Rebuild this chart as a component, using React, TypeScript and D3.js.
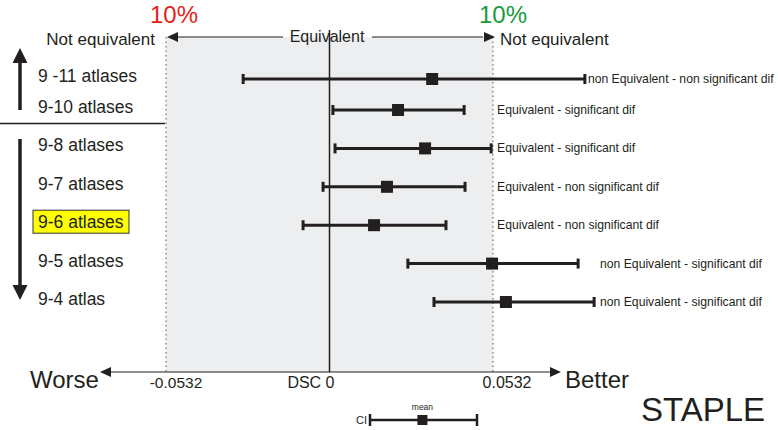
import React from "react";
import * as d3 from "d3";

// atlas combinations, top to bottom
const labels = ["9 -11 atlases", "9-10 atlases", "9-8 atlases", "9-7 atlases", "9-6 atlases", "9-5 atlases", "9-4 atlas"];
// DSC difference: mean and confidence interval
const means = [0.0334, 0.0223, 0.0311, 0.0187, 0.0145, 0.0529, 0.0574];
const lows = [-0.0281, 0.0011, 0.0018, -0.0021, -0.0086, 0.0255, 0.034];
const highs = [0.0831, 0.0438, 0.0526, 0.0441, 0.0379, 0.0809, 0.0861];
const notes = [
  "non Equivalent - non significant dif",
  "Equivalent - significant dif",
  "Equivalent - significant dif",
  "Equivalent - non significant dif",
  "Equivalent - non significant dif",
  "non Equivalent - significant dif",
  "non Equivalent - significant dif",
];
const margin = 0.0532;
const highlighted = "9-6 atlases";

const W = 778;
const H = 430;
const ink = "#231f20";
const font = "'Liberation Sans', Arial, sans-serif";

export default function App() {
  const x = d3.scaleLinear().domain([-margin, margin]).range([166, 493]);
  // rows: the first two (more atlases) sit above the divider, tighter spacing
  const y = d3.scaleLinear().domain([0, 1, labels.length - 1]).range([79, 110, 302]);
  const axisY = 372;
  const topY = 37;
  const x0 = x(0);
  const xl = x(-margin);
  const xr = x(margin);

  // legend whisker
  const lx = d3.scaleLinear().domain([0, 1]).range([370, 477]);
  const legendY = 420;

  const divY = y(1.35);

  const tri = (tx: number, ty: number, dir: "l" | "r" | "u" | "d", len = 13, half = 5) => {
    if (dir === "l") return `M${tx},${ty}L${tx + len},${ty - half}L${tx + len},${ty + half}Z`;
    if (dir === "r") return `M${tx},${ty}L${tx - len},${ty - half}L${tx - len},${ty + half}Z`;
    if (dir === "u") return `M${tx},${ty}L${tx - half},${ty + len}L${tx + half},${ty + len}Z`;
    return `M${tx},${ty}L${tx - half},${ty - len}L${tx + half},${ty - len}Z`;
  };

  return (
    <svg width={W} height={H} style={{ position: "absolute", left: 0, top: 0, background: "#fff", fontFamily: font }}>
      {/* equivalence zone */}
      <rect x={xl} y={topY} width={xr - xl} height={axisY - topY} fill="#eceef0" />
      <line x1={xl} x2={xl} y1={topY} y2={axisY} stroke="#555" strokeDasharray="1.5,3" />
      <line x1={xr} x2={xr} y1={topY} y2={axisY} stroke="#555" strokeDasharray="1.5,3" />
      <line x1={x0} x2={x0} y1={30} y2={axisY} stroke={ink} strokeWidth={1.5} />

      {/* top bracket */}
      <line x1={xl + 10} x2={283} y1={topY} y2={topY} stroke={ink} strokeWidth={1.2} />
      <line x1={372} x2={xr - 10} y1={topY} y2={topY} stroke={ink} strokeWidth={1.2} />
      <path d={tri(xl + 1, topY, "l", 11, 5)} fill={ink} />
      <path d={tri(xr + 2, topY, "r", 11, 5)} fill={ink} />
      <text x={327} y={42} textAnchor="middle" fontSize={16} fill={ink}>Equivalent</text>
      <text x={155} y={45} textAnchor="end" fontSize={17} fill={ink}>Not equivalent</text>
      <text x={500} y={45} fontSize={17} fill={ink}>Not equivalent</text>
      <text x={174} y={23} textAnchor="middle" fontSize={24} fill="#e2231a">10%</text>
      <text x={503} y={23} textAnchor="middle" fontSize={24} fill="#1a9a3c">10%</text>

      {/* left side labels and arrows */}
      <line x1={0} x2={165} y1={divY} y2={divY} stroke={ink} strokeWidth={1.5} />
      <line x1={20} x2={20} y1={110} y2={60} stroke={ink} strokeWidth={3.5} />
      <path d={tri(20, 48, "u", 15, 7.5)} fill={ink} />
      <line x1={20} x2={20} y1={139} y2={288} stroke={ink} strokeWidth={3.5} />
      <path d={tri(20, 300, "d", 15, 7.5)} fill={ink} />
      {labels.map((l, i) => {
        const yy = y(i);
        const hl = l === highlighted;
        return (
          <g key={l}>
            {hl && <rect x={33} y={yy - 15} width={96} height={23} fill="#ffff00" stroke="#333" strokeWidth={1} />}
            <text x={38} y={yy + 3} fontSize={17.5} fill={ink}>{l}</text>
          </g>
        );
      })}

      {/* intervals */}
      {labels.map((l, i) => {
        const yy = y(i);
        const a = x(lows[i]);
        const b = x(highs[i]);
        const m = x(means[i]);
        const noteX = i === 0 ? b + 3 : b > xr + 20 ? 600 : xr + 4;
        return (
          <g key={"ci" + l}>
            <line x1={a} x2={b} y1={yy} y2={yy} stroke={ink} strokeWidth={3} />
            <line x1={a} x2={a} y1={yy - 5} y2={yy + 5} stroke={ink} strokeWidth={3} />
            <line x1={b} x2={b} y1={yy - 5} y2={yy + 5} stroke={ink} strokeWidth={3} />
            <rect x={m - 6} y={yy - 6} width={12} height={12} fill={ink} />
            <text x={noteX} y={yy + 4} fontSize={12.2} fill={ink}>{notes[i]}</text>
          </g>
        );
      })}

      {/* bottom axis */}
      <line x1={108} x2={552} y1={axisY} y2={axisY} stroke={ink} strokeWidth={1.2} />
      <path d={tri(100, axisY, "l", 11, 5)} fill={ink} />
      <path d={tri(561, axisY, "r", 11, 5)} fill={ink} />
      <text x={30} y={388} fontSize={24} fill={ink}>Worse</text>
      <text x={565} y={388} fontSize={24} fill={ink}>Better</text>
      <text x={176} y={388} textAnchor="middle" fontSize={15.5} fill={ink}>{"-" + margin}</text>
      <text x={x0 + 5} y={388} textAnchor="end" fontSize={16} fill={ink}>DSC 0</text>
      <text x={507} y={388} textAnchor="middle" fontSize={16} fill={ink}>{String(margin)}</text>

      {/* legend */}
      <line x1={lx(0)} x2={lx(1)} y1={legendY} y2={legendY} stroke={ink} strokeWidth={2.5} />
      <line x1={lx(0)} x2={lx(0)} y1={legendY - 6} y2={legendY + 6} stroke={ink} strokeWidth={2.5} />
      <line x1={lx(1)} x2={lx(1)} y1={legendY - 6} y2={legendY + 6} stroke={ink} strokeWidth={2.5} />
      <rect x={lx(0.49) - 5} y={legendY - 5} width={10} height={10} fill={ink} />
      <text x={lx(0.49)} y={410} textAnchor="middle" fontSize={8.5} fill={ink}>mean</text>
      <text x={367} y={424} textAnchor="end" fontSize={11} fill={ink}>CI</text>
      <text x={641} y={421} fontSize={33} fill={ink}>STAPLE</text>
    </svg>
  );
}
